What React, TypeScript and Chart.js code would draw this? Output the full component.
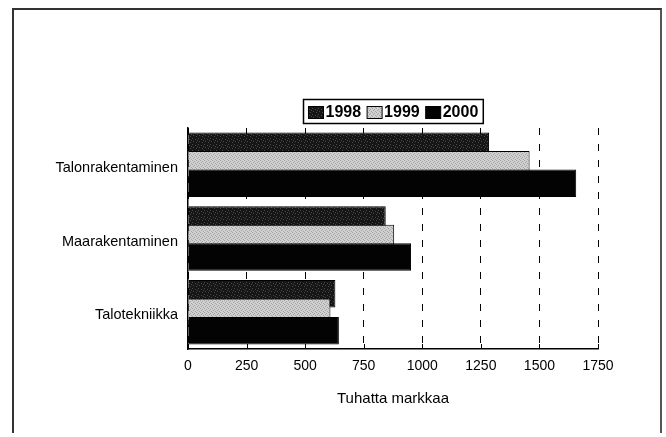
import React, { useEffect, useRef } from "react";
import { Chart, registerables } from "chart.js";

Chart.register(...registerables);

const categories = ["Talonrakentaminen", "Maarakentaminen", "Talotekniikka"];
const seriesLabels = ["1998", "1999", "2000"];
const values1998 = [1285, 844, 629];
const values1999 = [1458, 880, 608];
const values2000 = [1657, 952, 644];
const xTicks = [0, 250, 500, 750, 1000, 1250, 1500, 1750];
const xTitle = "Tuhatta markkaa";

const FONT = "'Liberation Sans', Arial, Helvetica, sans-serif";

function makePattern(base: string, dot: string, size: number, cells: number[][]) {
  const c = document.createElement("canvas");
  c.width = size;
  c.height = size;
  const g = c.getContext("2d")!;
  g.fillStyle = base;
  g.fillRect(0, 0, size, size);
  g.fillStyle = dot;
  cells.forEach(([x, y]) => g.fillRect(x, y, 1, 1));
  return g.createPattern(c, "repeat")!;
}

const drawOrderPlugin = {
  id: "drawOrder",
  beforeDatasetsDraw(chart: any) {
    const metas = chart.getSortedVisibleDatasetMetas();
    metas.forEach((m: any) => m.controller.draw());
    return false;
  },
};

const innerTicksPlugin = {
  id: "innerTicks",
  afterDraw(chart: any) {
    const xs = chart.scales.x;
    const ctx = chart.ctx;
    const b = chart.chartArea.bottom;
    ctx.save();
    ctx.strokeStyle = "#000";
    ctx.lineWidth = 1;
    xs.ticks.forEach((_t: any, i: number) => {
      const x = Math.round(xs.getPixelForTick(i)) + 0.5;
      ctx.beginPath();
      ctx.moveTo(x, b);
      ctx.lineTo(x, b - 5);
      ctx.stroke();
    });
    ctx.restore();
  },
};

const boxedLegendPlugin = {
  id: "boxedLegend",
  afterDraw(chart: any) {
    const ctx = chart.ctx;
    const area = chart.chartArea;
    ctx.save();
    ctx.font = `bold 16px ${FONT}`;
    const sqW = 15, sqH = 12, gap = 2, itemGap = 6, padX = 5, boxH = 24;
    const items = chart.data.datasets.map((ds: any) => ({
      ds,
      w: ctx.measureText(ds.label).width,
    }));
    const total =
      items.reduce((s: number, it: any) => s + sqW + gap + it.w, 0) +
      itemGap * (items.length - 1);
    const boxW = total + padX * 2;
    const cx = (area.left + area.right) / 2;
    const left = Math.round(cx - boxW / 2) + 0.5;
    const top = area.top - 29 + 0.5;
    ctx.fillStyle = "#fff";
    ctx.fillRect(left, top, boxW, boxH);
    ctx.lineWidth = 1.5;
    ctx.strokeStyle = "#000";
    ctx.strokeRect(left, top, boxW, boxH);
    let x = left + padX;
    const midY = top + boxH / 2 + 1;
    items.forEach((it: any) => {
      ctx.fillStyle = it.ds.backgroundColor;
      ctx.fillRect(x, midY - sqH / 2, sqW, sqH);
      ctx.lineWidth = 1;
      ctx.strokeStyle = "#000";
      ctx.strokeRect(x, midY - sqH / 2, sqW, sqH);
      x += sqW + gap;
      ctx.fillStyle = "#000";
      ctx.textBaseline = "middle";
      ctx.textAlign = "left";
      ctx.fillText(it.ds.label, x, midY);
      x += it.w + itemGap;
    });
    ctx.restore();
  },
};

export default function App() {
  const canvasRef = useRef<HTMLCanvasElement | null>(null);

  useEffect(() => {
    const canvas = canvasRef.current;
    if (!canvas) return;
    const pat98 = makePattern("#161616", "#4a4a4a", 6, [
      [0, 0], [3, 1], [1, 3], [4, 4], [5, 2],
    ]);
    const pat99 = makePattern("#d0d0d0", "#a4a4a4", 4, [
      [0, 0], [2, 1], [1, 2], [3, 3],
    ]);
    const fills = [pat98, pat99, "#030303"];
    const seriesValues = [values1998, values1999, values2000];

    const chart = new Chart(canvas, {
      type: "bar",
      data: {
        labels: categories,
        datasets: seriesLabels.map((label, i) => ({
          label,
          data: seriesValues[i],
          backgroundColor: fills[i] as any,
          borderColor: "#000",
          borderWidth: 1,
          categoryPercentage: 0.753,
          barPercentage: 1.49,
        })),
      },
      options: {
        indexAxis: "y",
        animation: false,
        responsive: false,
        devicePixelRatio: 1,
        layout: { padding: { top: 128, right: 68, bottom: 28, left: 0 } },
        plugins: {
          legend: { display: false },
          tooltip: { enabled: false },
        },
        scales: {
          x: {
            type: "linear",
            min: 0,
            max: 1750,
            afterBuildTicks: (s: any) => {
              s.ticks = xTicks.map((v) => ({ value: v }));
            },
            afterFit: (s: any) => {
              s.height = 60;
            },
            grid: { color: "#000", lineWidth: 1, drawTicks: false },
            border: { display: true, color: "#000", width: 1.5, dash: [7, 9] },
            ticks: {
              color: "#000",
              font: { family: FONT, size: 14 },
              padding: 9,
              maxRotation: 0,
              autoSkip: false,
              callback: (v: any) => String(v),
            },
            title: {
              display: true,
              text: xTitle,
              color: "#000",
              font: { family: FONT, size: 15 },
              padding: { top: 0, bottom: 1 },
            },
          },
          y: {
            type: "category",
            afterFit: (s: any) => {
              s.width = 188;
            },
            grid: { display: false },
            border: { display: true, color: "#000", width: 1.5 },
            ticks: {
              color: "#000",
              font: { family: FONT, size: 14.5 },
              padding: 2,
              labelOffset: 3,
            },
          },
        },
      } as any,
      plugins: [drawOrderPlugin, innerTicksPlugin, boxedLegendPlugin],
    });
    return () => chart.destroy();
  }, []);

  return (
    <div>
      <div
        style={{
          position: "absolute",
          left: 12,
          top: 8,
          width: 650,
          height: 425,
          boxSizing: "border-box",
          borderLeft: "2px solid #333",
          borderRight: "2px solid #555",
          borderTop: "2px solid #333",
        }}
      />
      <canvas
        ref={canvasRef}
        width={666}
        height={437}
        style={{ position: "absolute", left: 0, top: 0, width: 666, height: 437, display: "block" }}
      />
    </div>
  );
}
